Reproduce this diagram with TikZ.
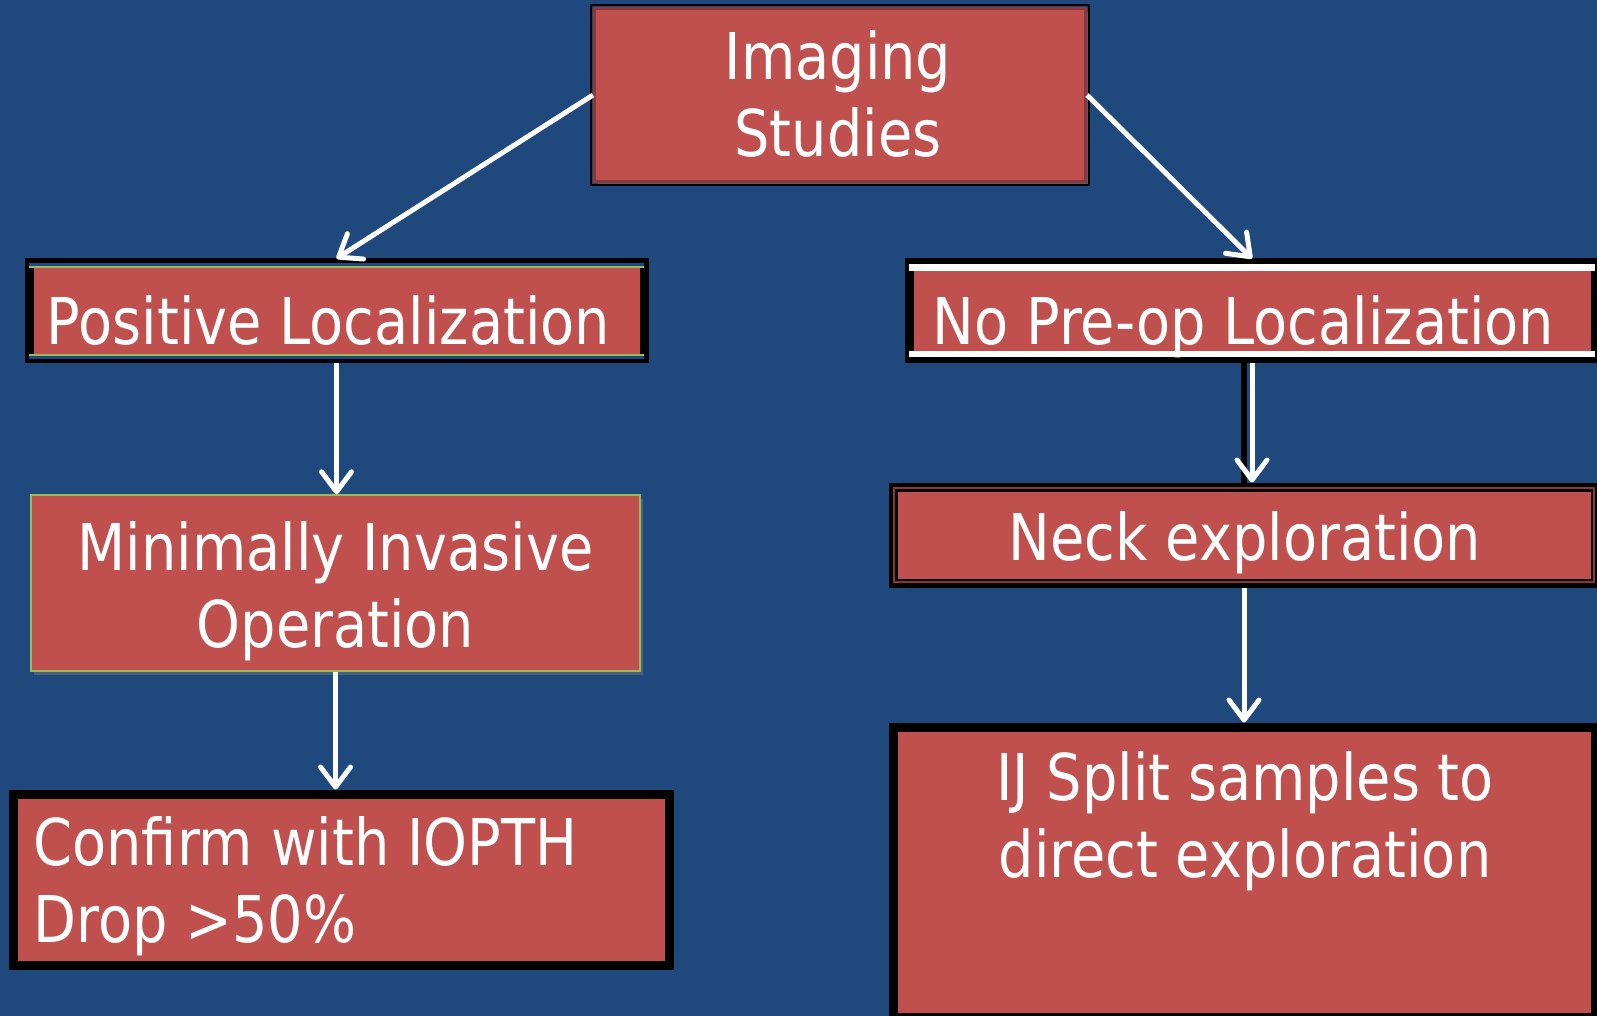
\documentclass[tikz,border=0pt]{standalone}
\usepackage{fontspec}
\setmainfont{DejaVu Sans}[FakeStretch=0.865]
\usepackage{tikz}
\usetikzlibrary{positioning, arrows.meta, shadows}
\definecolor{cSlide}{HTML}{1F497D}
\definecolor{cBox}{HTML}{C0504D}
\definecolor{cBoxDark}{HTML}{8C3836}
\definecolor{cGreen}{HTML}{9BBB59}

\tikzset{
  redbox/.style={rectangle, fill=cBox, inner sep=0pt},
  blackbox/.style={redbox, draw=black, line width=4.5pt},
  txt/.style={text=white, inner sep=0pt, align=center,
    font=\fontsize{32.25}{38.5}\selectfont},
  flow/.style={draw=white, line width=2.5pt,
    -{Straight Barb[round, length=10pt, width=15pt, line width=2.5pt]}},
  soft/.style={drop shadow={shadow xshift=1.5pt, shadow yshift=-2pt, opacity=0.45}}
}

\begin{document}
\begin{tikzpicture}[x=0.5pt, y=-0.5pt]
  \useasboundingbox (0,0) rectangle (1597,1016);
  \clip (0,0) rectangle (1597,1016);
  \fill[cSlide] (0,0) rectangle (1597,1016);

  % boxes
  \node[redbox, soft, draw=cBoxDark, line width=1.5pt,
        minimum width=245.5pt, minimum height=86.5pt] (img) at (840,95) {};
  \draw[black, line width=0.6pt] ([shift={(-1pt,1pt)}]img.north west) rectangle ([shift={(1pt,-1pt)}]img.south east);

  \node[blackbox, minimum width=307.5pt, minimum height=48pt] (pos) at (336.5,311) {};
  \draw[cSlide, line width=1.5pt] ([shift={(2.25pt,-3pt)}]pos.north west) -- ([shift={(-2.25pt,-3pt)}]pos.north east);
  \draw[cGreen, line width=1pt] ([shift={(2.25pt,-4.25pt)}]pos.north west) -- ([shift={(-2.25pt,-4.25pt)}]pos.north east);
  \draw[cSlide, line width=1.5pt] ([shift={(2.25pt,3pt)}]pos.south west) -- ([shift={(-2.25pt,3pt)}]pos.south east);
  \draw[cGreen, line width=1pt] ([shift={(2.25pt,4.25pt)}]pos.south west) -- ([shift={(-2.25pt,4.25pt)}]pos.south east);

  \node[blackbox, minimum width=343pt, minimum height=48pt] (nopre) at (1252,311) {};
  \draw[white, line width=3.5pt] ([shift={(2.25pt,-4.5pt)}]nopre.north west) -- ([shift={(-2.25pt,-4.5pt)}]nopre.north east);
  \draw[white, line width=3pt] ([shift={(2.25pt,4.75pt)}]nopre.south west) -- ([shift={(-2.25pt,4.75pt)}]nopre.south east);

  \node[redbox, soft, draw=cGreen, line width=0.75pt,
        minimum width=304.5pt, minimum height=88pt] (mio) at (335.5,583) {};

  \node[blackbox, soft, minimum width=351pt, minimum height=48pt] (neck) at (1244,535) {};
  \draw[cBoxDark, line width=0.8pt] ([shift={(2.75pt,-2.75pt)}]neck.north west) rectangle ([shift={(-2.75pt,2.75pt)}]neck.south east);

  \node[blackbox, soft, minimum width=328pt, minimum height=85.5pt] (conf) at (341,879.5) {};

  \node[blackbox, minimum width=351pt, minimum height=145pt] (ij) at (1244,872) {};

  % texts
  \node[txt, anchor=base] (imgtxt) at (838,157) {Imaging\\Studies};
  \node[txt, anchor=base] (postxt) at (328.5,345) {Positive Localization};
  \node[txt, anchor=base] (nopretxt) at (1243.5,345) {No Pre-op Localization};
  \node[txt, anchor=base] (miotxt) at (335.5,647) {Minimally Invasive\\Operation};
  \node[txt, anchor=base] (necktxt) at (1245,560) {Neck exploration};
  \node[txt, anchor=base west, align=left] (conftxt) at (33,942) {Confirm with IOPTH\\Drop {>}50\%};
  \node[txt, anchor=base] (ijtxt) at (1245,877) {IJ Split samples to\\direct exploration};

  % arrows
  \draw[flow] (img.west) -- (pos.north);
  \draw[flow] (img.east) -- (nopre.north);
  \draw[flow] (pos.south) -- (pos.south |- mio.north);
  \draw[black, line width=2.75pt] (neck.north) -- (neck.north |- nopre.south);
  \draw[flow] (nopre.south) -- (nopre.south |- neck.north);
  \draw[flow] (mio.south) -- (mio.south |- conf.north);
  \draw[flow] (neck.south) -- (neck.south |- ij.north);
\end{tikzpicture}
\end{document}
